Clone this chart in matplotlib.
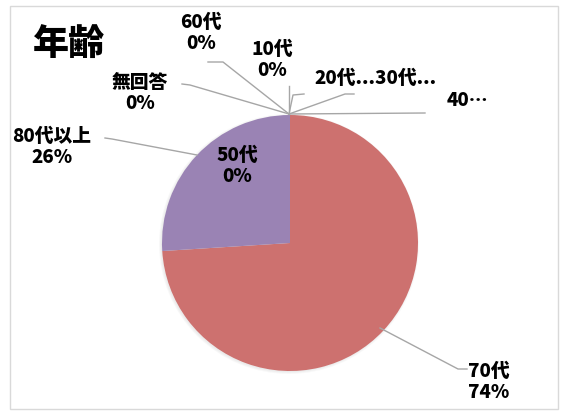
import matplotlib.pyplot as plt
from matplotlib.patches import Rectangle, Circle

plt.rcParams['font.family'] = ['Noto Sans CJK JP', 'DejaVu Sans']

# data, clockwise from 12 o'clock
categories = ['10代', '20代', '30代', '40代', '50代', '60代', '70代', '80代以上', '無回答']
shares = [0, 0, 0, 0, 0, 0, 74, 26, 0]
colors = ['#4F81BD', '#C0504D', '#9BBB59', '#8064A2', '#4BACC6', '#F79646',
          '#CD716F', '#9A83B4', '#2C4D75']
label_text = {
    '10代': '10代\n0%', '20代': '20代...30代...', '30代': '',
    '40代': '40\u22ef', '50代': '50代\n0%', '60代': '60代\n0%',
    '70代': '70代\n74%', '80代以上': '80代以上\n26%', '無回答': '無回答\n0%',
}

W, H = 563, 412
fig = plt.figure(figsize=(W / 100, H / 100), dpi=100)
ax = fig.add_axes([0, 0, 1, 1])

cx, cy, r = 290, 243, 128
# faint shadow
for k, a in enumerate([0.05, 0.05, 0.05]):
    ax.add_patch(Circle((cx - 1, cy + 1), r + 2 - k, color='#808080', alpha=a, lw=0))

wedges, _ = ax.pie(shares, colors=colors, startangle=-90, counterclock=True,
                   center=(cx, cy), radius=r, frame=True,
                   wedgeprops=dict(linewidth=0))

ax.set_xlim(0, W)
ax.set_ylim(H, 0)
ax.set_aspect('auto')
ax.axis('off')

ax.add_patch(Rectangle((10, 6), 548, 403, fill=False, ec='#D9D9D9', lw=1))

ax.text(33, 45, '年齢', fontsize=26, fontweight='heavy', va='center', ha='left')

# label positions (text centre) and leader lines
pos = {
    '60代': (201, 33), '10代': (272, 60), '無回答': (140, 93),
    '20代': (375, 78), '40代': (467, 100), '80代以上': (52, 147),
    '50代': (237, 166), '70代': (489, 382),
}
leaders = {
    '60代': [(289, 114), (223, 62), (208, 62)],
    '10代': [(289, 114), (289, 86)],
    '無回答': [(289, 114), (190, 85), (182, 84)],
    '20代': [(289, 114), (293, 95), (304, 94)],
    '30代': [(289, 114), (345, 94), (354, 94)],
    '40代': [(289, 114), (425, 113)],
    '80代以上': [(197, 155), (112, 139), (105, 138)],
    '70代': [(380, 328), (458, 369), (467, 369)],
}
for name, pts in leaders.items():
    xs, ys = zip(*pts)
    ax.plot(xs, ys, color='#A6A6A6', lw=1)

for name in categories:
    txt = label_text[name]
    if not txt or name not in pos:
        continue
    x, y = pos[name]
    ax.text(x, y, txt, fontsize=13.5, fontweight='heavy', ha='center', va='center',
            linespacing=1.15)

fig.savefig('out.png', dpi=100)
